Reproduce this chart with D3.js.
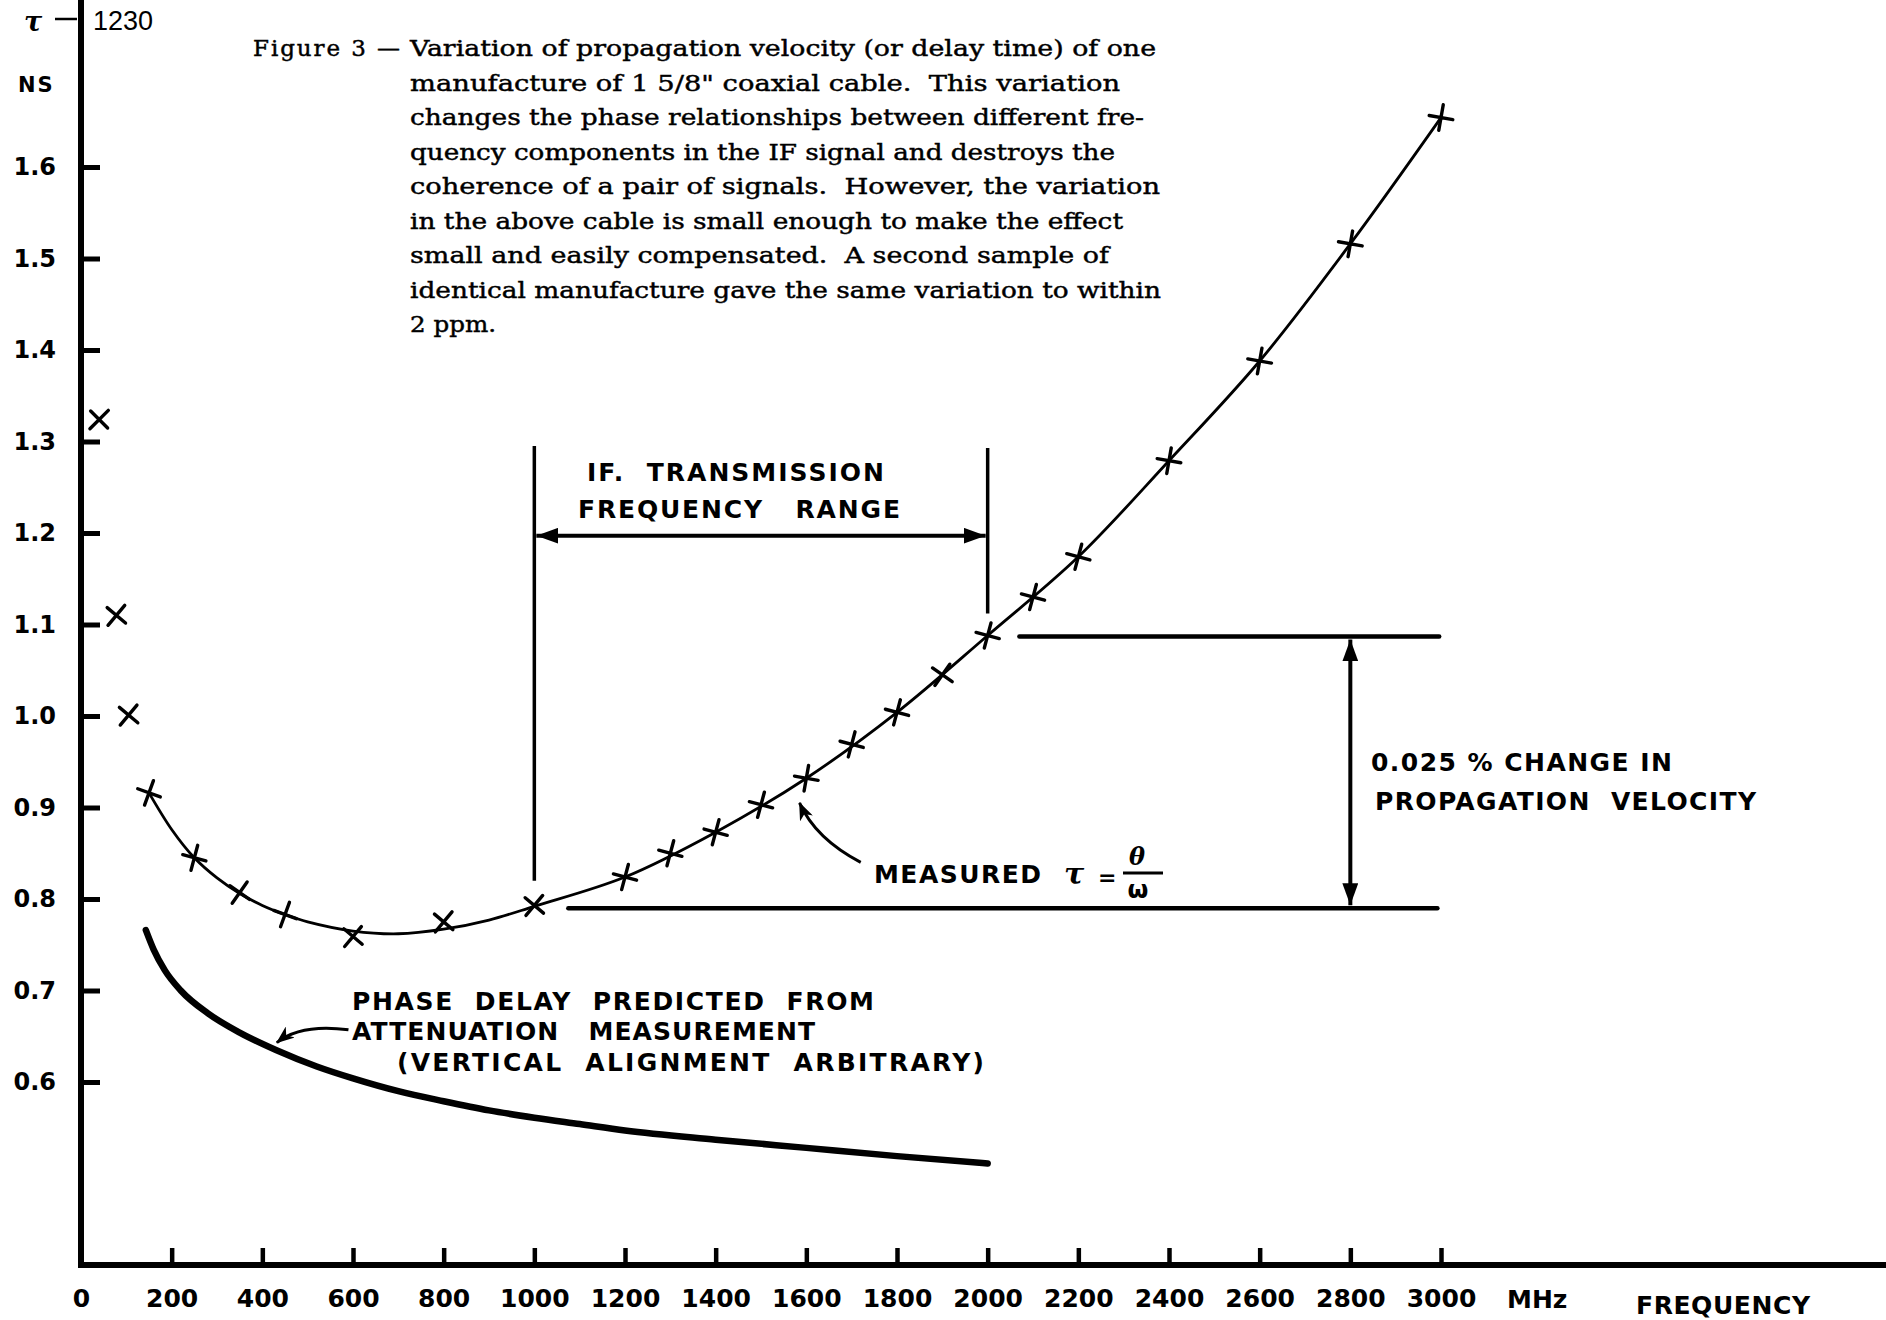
<!DOCTYPE html>
<html>
<head>
<meta charset="utf-8">
<script src="https://cdn.jsdelivr.net/npm/d3@7"></script>
<style>
  body { margin: 0; background: #fff; }
</style>
</head>
<body>
<div id="chart"></div>
<script>
// measured delay (tau - 1230 ns) against frequency (MHz)
const measuredFreq  = [40, 78, 105, 150, 250, 350, 450, 600, 800, 1000, 1200, 1300, 1400, 1500, 1600, 1700, 1800, 1900, 2000, 2100, 2200, 2400, 2600, 2800, 3000];
const measuredDelay = [1.324, 1.110, 1.001, 0.916, 0.845, 0.807, 0.783, 0.759, 0.775, 0.793, 0.824, 0.850, 0.873, 0.903, 0.932, 0.969, 1.004, 1.045, 1.088, 1.130, 1.174, 1.279, 1.388, 1.516, 1.654];
// how much each hand drawn cross is turned (degrees)
const markerTilt = [45, 40, 40, 20, 15, 35, 20, 40, 40, 40, 15, 15, 15, 15, 10, 15, 15, 35, 15, 15, 15, 10, 10, 10, 10];

// smooth curve drawn through the measured points
const fitFreq  = [150, 200, 250, 300, 350, 400, 450, 500, 600, 700, 800, 900, 1000, 1200, 1400, 1600, 1800, 2000, 2200, 2400, 2600, 2800, 3000];
const fitDelay = [0.916, 0.876, 0.845, 0.823, 0.806, 0.793, 0.783, 0.775, 0.765, 0.762, 0.767, 0.777, 0.792, 0.824, 0.873, 0.932, 1.004, 1.088, 1.174, 1.279, 1.388, 1.516, 1.654];

// phase delay predicted from attenuation measurement
const phaseFreq  = [143, 160, 185, 220, 280, 350, 430, 520, 600, 700, 800, 900, 1000, 1100, 1200, 1400, 1600, 1800, 2000];
const phaseDelay = [0.766, 0.745, 0.722, 0.700, 0.675, 0.654, 0.635, 0.617, 0.604, 0.590, 0.579, 0.569, 0.561, 0.554, 0.547, 0.537, 0.528, 0.519, 0.511];

const xTicks = [0, 200, 400, 600, 800, 1000, 1200, 1400, 1600, 1800, 2000, 2200, 2400, 2600, 2800, 3000];
const yTicks = [0.6, 0.7, 0.8, 0.9, 1.0, 1.1, 1.2, 1.3, 1.4, 1.5, 1.6];

const captionLines = [
    "Variation of propagation velocity (or delay time) of one",
    "manufacture of 1 5/8\" coaxial cable.  This variation",
    "changes the phase relationships between different fre-",
    "quency components in the IF signal and destroys the",
    "coherence of a pair of signals.  However, the variation",
    "in the above cable is small enough to make the effect",
    "small and easily compensated.  A second sample of",
    "identical manufacture gave the same variation to within",
    "2 ppm."
];
const captionEnds = [1156, 1120, 1144, 1115, 1160, 1123, 1109, 1161, 496];

const lettering = "'DejaVu Sans', sans-serif";
const serif = "'DejaVu Serif', serif";

const W = 1886, H = 1320;
const svg = d3.select("#chart").append("svg")
    .attr("width", W)
    .attr("height", H)
    .style("background", "#fff");

const x = d3.scaleLinear().domain([0, 3000]).range([81, 1441]);
const y = d3.scaleLinear().domain([0.6, 1.6]).range([1082, 167]);
const baseY = y(0.4);

// arrow heads
const defs = svg.append("defs");
defs.append("marker")
    .attr("id", "head")
    .attr("viewBox", "0 0 22 16")
    .attr("refX", 22).attr("refY", 8)
    .attr("markerWidth", 22).attr("markerHeight", 16)
    .attr("markerUnits", "userSpaceOnUse")
    .attr("orient", "auto-start-reverse")
    .append("path").attr("d", "M0,0L22,8L0,16Z").attr("fill", "#000");
defs.append("marker")
    .attr("id", "pointer")
    .attr("viewBox", "0 0 18 14")
    .attr("refX", 17).attr("refY", 7)
    .attr("markerWidth", 18).attr("markerHeight", 14)
    .attr("markerUnits", "userSpaceOnUse")
    .attr("orient", "auto")
    .append("path").attr("d", "M0,0L18,7L0,14L5,7Z").attr("fill", "#000");

// X axis
const xAxis = svg.append("g")
    .attr("transform", "translate(0," + baseY + ")")
    .call(d3.axisBottom(x).tickValues(xTicks).tickSize(-17).tickPadding(24).tickFormat(d3.format("d")));
xAxis.select(".domain").remove();
xAxis.selectAll(".tick line").attr("stroke", "#000").attr("stroke-width", 4.5);
xAxis.selectAll(".tick").filter(d => d === 0).select("line").remove();
xAxis.selectAll("text")
    .attr("font-family", lettering)
    .attr("font-weight", "bold")
    .attr("font-size", 25)
    .attr("fill", "#000");

// Y axis
const yAxis = svg.append("g")
    .attr("transform", "translate(" + x(0) + ",0)")
    .call(d3.axisLeft(y).tickValues(yTicks).tickSize(-19).tickPadding(25).tickFormat(d3.format(".1f")));
yAxis.select(".domain").remove();
yAxis.selectAll(".tick line").attr("stroke", "#000").attr("stroke-width", 5);
yAxis.selectAll("text")
    .attr("font-family", lettering)
    .attr("font-weight", "bold")
    .attr("font-size", 24)
    .attr("fill", "#000");

svg.append("line")
    .attr("x1", x(0)).attr("x2", x(0))
    .attr("y1", 0).attr("y2", baseY + 3)
    .attr("stroke", "#000").attr("stroke-width", 6);
svg.append("line")
    .attr("x1", x(0) - 3).attr("x2", W)
    .attr("y1", baseY).attr("y2", baseY)
    .attr("stroke", "#000").attr("stroke-width", 6);

// axis titles
svg.append("text").attr("x", 24).attr("y", 31)
    .attr("font-family", serif).attr("font-style", "italic").attr("font-weight", "bold").attr("font-size", 27)
    .text("τ");
svg.append("line").attr("x1", 55).attr("x2", 77).attr("y1", 19).attr("y2", 19)
    .attr("stroke", "#000").attr("stroke-width", 2.5);
svg.append("text").attr("x", 93).attr("y", 30)
    .attr("font-family", "'Liberation Sans', sans-serif").attr("font-size", 27)
    .text("1230");
svg.append("text").attr("x", 18).attr("y", 92)
    .attr("font-family", lettering).attr("font-weight", "bold").attr("font-size", 21)
    .attr("letter-spacing", 2)
    .text("NS");
svg.append("text").attr("x", 1507).attr("y", 1308)
    .attr("font-family", lettering).attr("font-weight", "bold").attr("font-size", 25)
    .text("MHz");
svg.append("text").attr("x", 1636).attr("y", 1314)
    .attr("font-family", lettering).attr("font-weight", "bold").attr("font-size", 25)
    .attr("textLength", 174).attr("lengthAdjust", "spacing")
    .text("FREQUENCY");

// caption
svg.append("text").attr("x", 253).attr("y", 56)
    .attr("font-family", serif).attr("font-size", 23)
    .attr("stroke", "#000").attr("stroke-width", 0.45)
    .attr("textLength", 147).attr("lengthAdjust", "spacing")
    .text("Figure 3 —");
svg.selectAll(".caption")
    .data(captionLines)
    .enter()
    .append("text")
    .attr("x", 410)
    .attr("y", (d, i) => 56 + i * 34.5)
    .attr("font-family", serif)
    .attr("font-size", 23)
    .attr("stroke", "#000")
    .attr("stroke-width", 0.45)
    .attr("textLength", (d, i) => captionEnds[i] - 410)
    .attr("lengthAdjust", "spacingAndGlyphs")
    .style("white-space", "pre")
    .text(d => d);

// curves
const line = d3.line()
    .x(d => x(d[0]))
    .y(d => y(d[1]));

svg.append("path")
    .datum(phaseFreq.map((f, i) => [f, phaseDelay[i]]))
    .attr("d", line.curve(d3.curveMonotoneX))
    .attr("fill", "none")
    .attr("stroke", "#000")
    .attr("stroke-width", 6.5)
    .attr("stroke-linecap", "round");

svg.append("path")
    .datum(fitFreq.map((f, i) => [f, fitDelay[i]]))
    .attr("d", line.curve(d3.curveCatmullRom))
    .attr("fill", "none")
    .attr("stroke", "#000")
    .attr("stroke-width", 2.8);

// measured points, hand drawn crosses
svg.selectAll(".pt")
    .data(measuredFreq.map((f, i) => ({ f: f, v: measuredDelay[i], t: markerTilt[i] })))
    .enter()
    .append("path")
    .attr("transform", d => "translate(" + x(d.f) + "," + y(d.v) + ") rotate(" + d.t + ")")
    .attr("d", "M-12,0H12M0,-13V13")
    .attr("stroke", "#000")
    .attr("stroke-width", 3.4)
    .attr("stroke-linecap", "round");

// IF transmission range bracket
const stroke = (sel, w) => sel.attr("stroke", "#000").attr("stroke-width", w).attr("fill", "none");
svg.append("line").attr("x1", x(1000)).attr("x2", x(1000)).attr("y1", y(1.295)).attr("y2", y(0.82)).call(stroke, 3.5);
svg.append("line").attr("x1", x(2000)).attr("x2", x(2000)).attr("y1", y(1.293)).attr("y2", y(1.112)).call(stroke, 3.5);
svg.append("line").attr("x1", x(1000) + 2).attr("x2", x(2000) - 2).attr("y1", y(1.197)).attr("y2", y(1.197))
    .call(stroke, 4)
    .attr("marker-start", "url(#head)").attr("marker-end", "url(#head)");

// 0.025% change bracket
svg.append("line").attr("x1", x(1075)).attr("x2", x(2992)).attr("y1", y(0.79)).attr("y2", y(0.79)).call(stroke, 4.5).attr("stroke-linecap", "round");
svg.append("line").attr("x1", x(2070)).attr("x2", x(2996)).attr("y1", y(1.087)).attr("y2", y(1.087)).call(stroke, 4.5).attr("stroke-linecap", "round");
svg.append("line").attr("x1", x(2800)).attr("x2", x(2800)).attr("y1", y(1.087) + 3).attr("y2", y(0.79) - 3)
    .call(stroke, 4)
    .attr("marker-start", "url(#head)").attr("marker-end", "url(#head)");

// pointers
svg.append("path")
    .attr("d", "M" + x(1720) + "," + y(0.840) + " Q" + x(1620) + "," + y(0.866) + " " + x(1585) + "," + y(0.905))
    .call(stroke, 3)
    .attr("marker-end", "url(#pointer)");
svg.append("path")
    .attr("d", "M" + x(590) + "," + y(0.657) + " Q" + x(485) + "," + y(0.664) + " " + x(432) + "," + y(0.643))
    .call(stroke, 3)
    .attr("marker-end", "url(#pointer)");

// lettered notes
const notes = [
    { t: "IF.  TRANSMISSION", x0: 587, x1: 884, y: 481 },
    { t: "FREQUENCY   RANGE", x0: 578, x1: 900, y: 518 },
    { t: "0.025 % CHANGE IN", x0: 1371, x1: 1672, y: 771 },
    { t: "PROPAGATION  VELOCITY", x0: 1375, x1: 1756, y: 810 },
    { t: "MEASURED", x0: 874, x1: 1041, y: 883 },
    { t: "PHASE  DELAY  PREDICTED  FROM", x0: 352, x1: 874, y: 1010 },
    { t: "ATTENUATION   MEASUREMENT", x0: 352, x1: 815, y: 1040 },
    { t: "(VERTICAL  ALIGNMENT  ARBITRARY)", x0: 397, x1: 984, y: 1071 }
];
svg.selectAll(".note")
    .data(notes)
    .enter()
    .append("text")
    .attr("x", d => d.x0)
    .attr("y", d => d.y)
    .attr("font-family", lettering)
    .attr("font-weight", "bold")
    .attr("font-size", 25)
    .attr("textLength", d => d.x1 - d.x0)
    .attr("lengthAdjust", "spacing")
    .style("white-space", "pre")
    .text(d => d.t);

// tau = theta / omega
svg.append("text").attr("x", 1064).attr("y", 884)
    .attr("font-family", serif).attr("font-style", "italic").attr("font-weight", "bold").attr("font-size", 30).text("τ");
svg.append("text").attr("x", 1098).attr("y", 885)
    .attr("font-family", lettering).attr("font-weight", "bold").attr("font-size", 22).text("=");
svg.append("text").attr("x", 1137).attr("y", 865).attr("text-anchor", "middle")
    .attr("font-family", serif).attr("font-style", "italic").attr("font-weight", "bold").attr("font-size", 24).text("θ");
svg.append("line").attr("x1", 1123).attr("x2", 1163).attr("y1", 873).attr("y2", 873).call(stroke, 3);
svg.append("text").attr("x", 1138).attr("y", 898).attr("text-anchor", "middle")
    .attr("font-family", lettering).attr("font-weight", "bold").attr("font-size", 24).text("ω");
</script>
</body>
</html>
